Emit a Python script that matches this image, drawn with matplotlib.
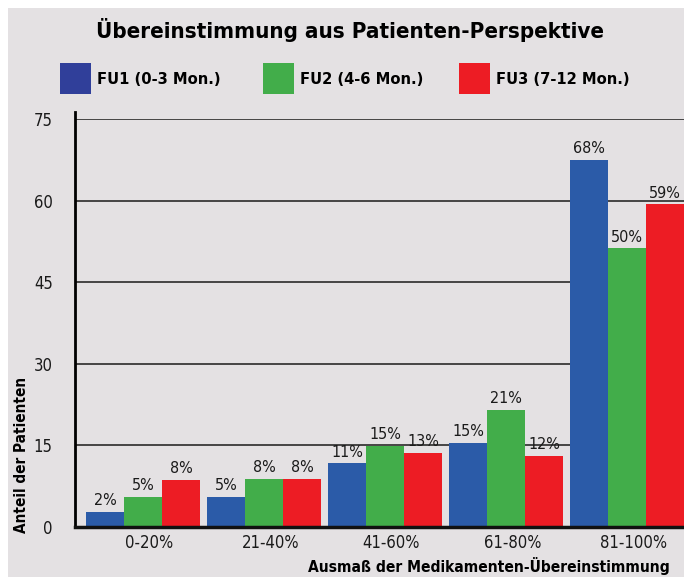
import matplotlib.pyplot as plt
import numpy as np
from matplotlib.patches import Rectangle

# --- Data ---
categories = ["0-20%", "21-40%", "41-60%", "61-80%", "81-100%"]
series_names = ["FU1 (0-3 Mon.)", "FU2 (4-6 Mon.)", "FU3 (7-12 Mon.)"]
fu1 = [2.8, 5.6, 11.7, 15.4, 67.5]
fu2 = [5.6, 8.9, 14.9, 21.5, 51.2]
fu3 = [8.7, 8.9, 13.6, 13.1, 59.3]
fu1_labels = ["2%", "5%", "11%", "15%", "68%"]
fu2_labels = ["5%", "8%", "15%", "21%", "50%"]
fu3_labels = ["8%", "8%", "13%", "12%", "59%"]
yticks = [0, 15, 30, 45, 60, 75]

BAR_COLORS = ["#2b5ba8", "#42ad4a", "#ed1c24"]
LEGEND_COLORS = ["#303f9a", "#42ad4a", "#ed1c24"]
BG = "#e4e1e3"

plt.rcParams["font.family"] = "DejaVu Sans"
plt.rcParams["font.stretch"] = "condensed"

W, H = 684, 577
fig = plt.figure(figsize=(W / 100, H / 100), dpi=100)
fig.patch.set_facecolor("white")
fig.add_artist(Rectangle((8 / W, 0), 1 - 8 / W, 1 - 8 / H,
                         transform=fig.transFigure, facecolor=BG,
                         edgecolor="none", zorder=0))

# axes: left spine at x=75, top (75) at y=119, baseline at y=527
ax = fig.add_axes([75 / W, 1 - 527 / H, 1 - 75 / W, (527 - 119) / H])
ax.set_facecolor("none")

x = np.arange(len(categories))
width = 0.314
for i, (vals, labels) in enumerate(zip([fu1, fu2, fu3],
                                       [fu1_labels, fu2_labels, fu3_labels])):
    bars = ax.bar(x + (i - 1) * width, vals, width, color=BAR_COLORS[i],
                  zorder=2)
    for b, lab in zip(bars, labels):
        ax.text(b.get_x() + b.get_width() / 2, b.get_height() + 0.7, lab,
                ha="center", va="bottom", fontsize=11.5, color="#1a1a1a")

ax.set_xlim(-0.566, 4.47)
ax.set_ylim(0, 75)
ax.set_yticks(yticks)
ax.set_yticklabels([str(t) for t in yticks], fontsize=12, color="#1a1a1a")
ax.set_xticks(x + 0.05)
ax.set_xticklabels(categories, fontsize=12, color="#1a1a1a")
ax.tick_params(axis="x", length=0, pad=5)
ax.tick_params(axis="y", length=0, pad=16)
for t in yticks[1:]:
    ax.axhline(t, color="#2a2a2a", lw=1.2, zorder=1)

for s in ["top", "right"]:
    ax.spines[s].set_visible(False)
ax.spines["left"].set_linewidth(2)
ax.spines["left"].set_bounds(0, 76.2)
ax.spines["bottom"].set_linewidth(2.5)
ax.spines["bottom"].set_color("#111111")
ax.spines["bottom"].set_zorder(3)

# axis titles
fig.text(670 / W, 1 - 566 / H, "Ausmaß der Medikamenten-Übereinstimmung",
         ha="right", va="center", fontsize=11.2, fontweight="bold")
fig.text(22 / W, 1 - 455 / H, "Anteil der Patienten", rotation=90,
         ha="center", va="center", fontsize=11, fontweight="bold")

# title
fig.text(350 / W, 1 - 30 / H, "Übereinstimmung aus Patienten-Perspektive",
         ha="center", va="center", fontsize=16, fontweight="bold")

# legend
legend_x = [60, 263, 459]
for lx, name, c in zip(legend_x, series_names, LEGEND_COLORS):
    fig.add_artist(Rectangle((lx / W, 1 - 94 / H), 31 / W, 31 / H,
                             transform=fig.transFigure, facecolor=c,
                             edgecolor="none"))
    fig.text((lx + 37) / W, 1 - 79 / H, name, ha="left", va="center",
             fontsize=11.8, fontweight="bold")

fig.savefig("out.png", dpi=100, facecolor=fig.get_facecolor())
